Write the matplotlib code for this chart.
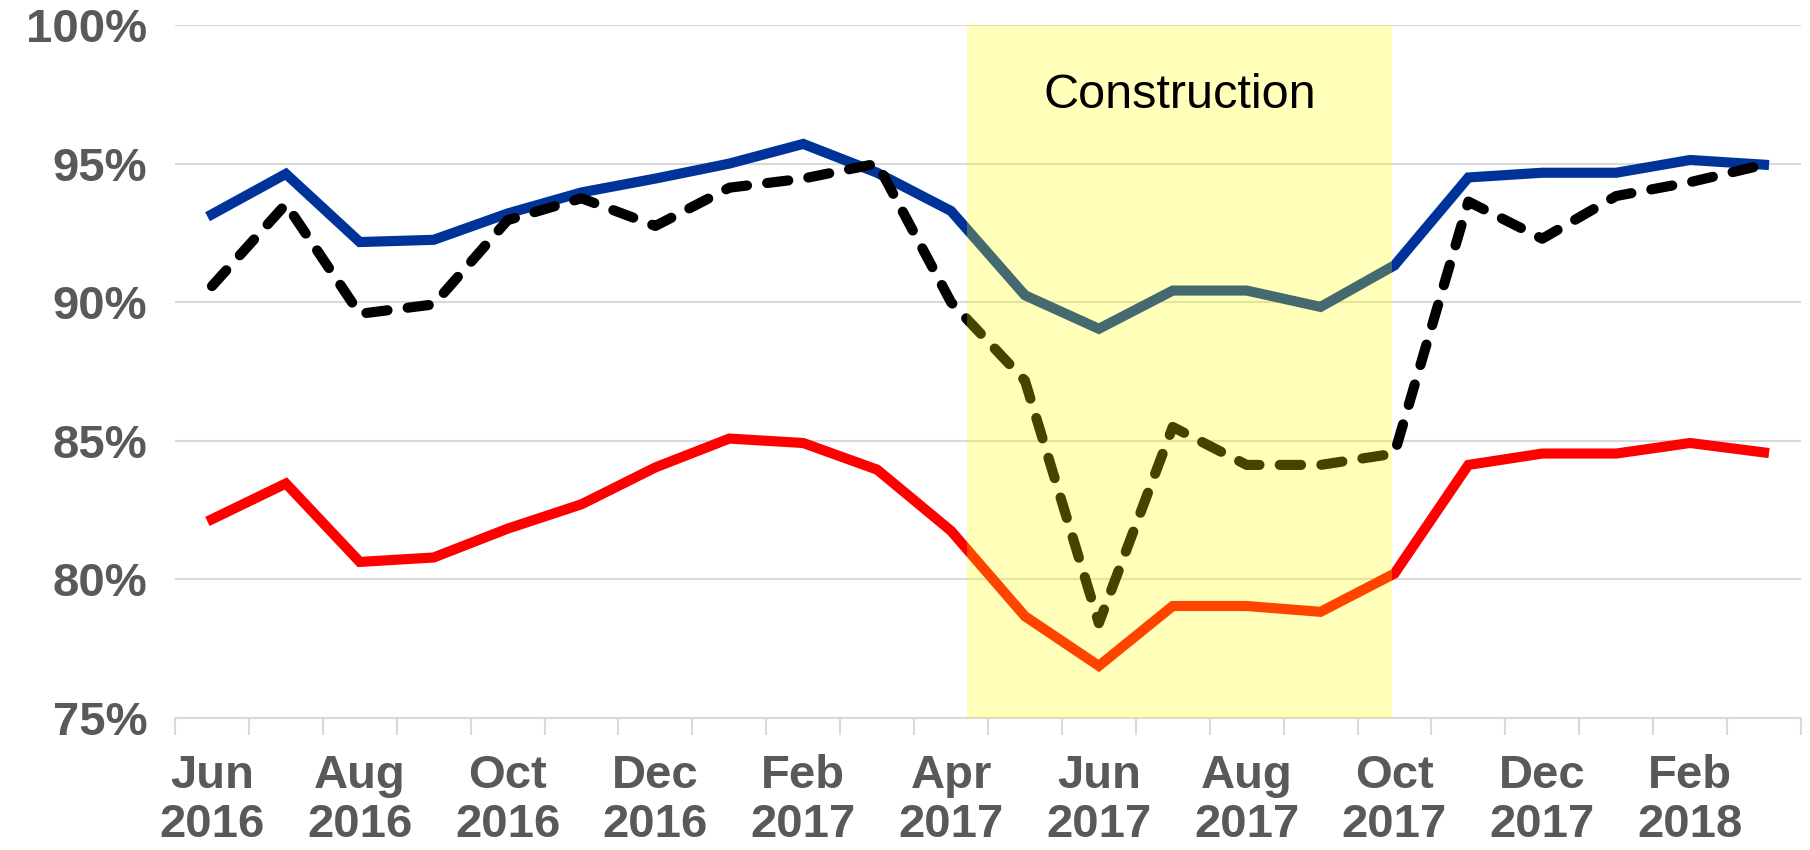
import matplotlib
matplotlib.use("Agg")
from matplotlib import pyplot as plt
from matplotlib.ticker import FixedLocator, FuncFormatter

plt.rcParams["font.family"] = ["Liberation Sans", "DejaVu Sans"]

# months Jun 2016 .. Mar 2018
months = ["Jun", "Jul", "Aug", "Sep", "Oct", "Nov", "Dec", "Jan", "Feb", "Mar", "Apr",
          "May", "Jun", "Jul", "Aug", "Sep", "Oct", "Nov", "Dec", "Jan", "Feb", "Mar"]
years = ["2016"] * 7 + ["2017"] * 12 + ["2018"] * 3

blue = [93.17, 94.63, 92.17, 92.25, 93.2, 93.96, 94.46, 95.0, 95.71, 94.67, 93.29,
        90.25, 89.04, 90.42, 90.42, 89.83, 91.33, 94.5, 94.67, 94.67, 95.13, 94.96]
dashed = [90.58, 93.54, 89.58, 89.92, 92.96, 93.75, 92.75, 94.13, 94.46, 95.0, 90.0,
          87.17, 78.42, 85.5, 84.13, 84.13, 84.54, 93.63, 92.29, 93.83, 94.33, 94.96]
red = [82.17, 83.46, 80.63, 80.79, 81.83, 82.71, 84.04, 85.08, 84.92, 83.96, 81.75,
       78.67, 76.88, 79.04, 79.04, 78.83, 80.21, 84.13, 84.54, 84.54, 84.92, 84.58]

# construction period (in month positions)
build_start = 10.22
build_end = 15.97

x = list(range(len(months)))

fig = plt.figure(figsize=(18.1, 8.5), dpi=100)
ax = fig.add_axes([0.0967, 0.1553, 0.8983, 0.8153])

ax.plot(x, blue, color="#003399", lw=7.3, solid_joinstyle="miter", zorder=3)
ax.plot(x, red, color="#FF0000", lw=7.3, solid_joinstyle="miter", zorder=3)
ax.plot(x, dashed, color="black", lw=7.3, dashes=(2.1, 2.0),
        dash_capstyle="round", zorder=4)

# yellow box goes over the lines (tints them)
ax.axvspan(build_start, build_end, ymin=0, ymax=1, color="#FFFF00", alpha=0.27,
           lw=0, zorder=5)
ax.text((build_start + build_end) / 2, 97.45, "Construction", ha="center", va="center",
        fontsize=35, color="black", zorder=6)

ax.set_xlim(-0.5, len(months) - 0.5)
ax.set_ylim(75, 100)
ax.set_yticks([75, 80, 85, 90, 95, 100])
ax.yaxis.set_major_formatter(FuncFormatter(lambda v, p: "%d%%" % v))
ax.grid(axis="y", color="#D9D9D9", lw=1.5, zorder=0)

lab_pos = x[::2]
ax.set_xticks(lab_pos)
ax.set_xticklabels([months[i] + "\n" + years[i] for i in lab_pos])
ax.xaxis.set_minor_locator(FixedLocator([i - 0.5 for i in range(len(months) + 1)]))
ax.tick_params(axis="x", which="major", length=0, pad=26)
ax.tick_params(axis="x", which="minor", length=12, width=1.5, color="#D9D9D9")
ax.tick_params(axis="y", length=0, pad=20)

for lab in ax.get_xticklabels() + ax.get_yticklabels():
    lab.set_fontsize(34)
    lab.set_fontweight("bold")
    lab.set_color("#595959")
for lab in ax.get_xticklabels():
    lab.set_linespacing(1.15)

for s in ["top", "right", "left"]:
    ax.spines[s].set_visible(False)
ax.spines["bottom"].set_color("#D9D9D9")
ax.spines["bottom"].set_linewidth(1.5)

fig.savefig("out.png", dpi=100)
